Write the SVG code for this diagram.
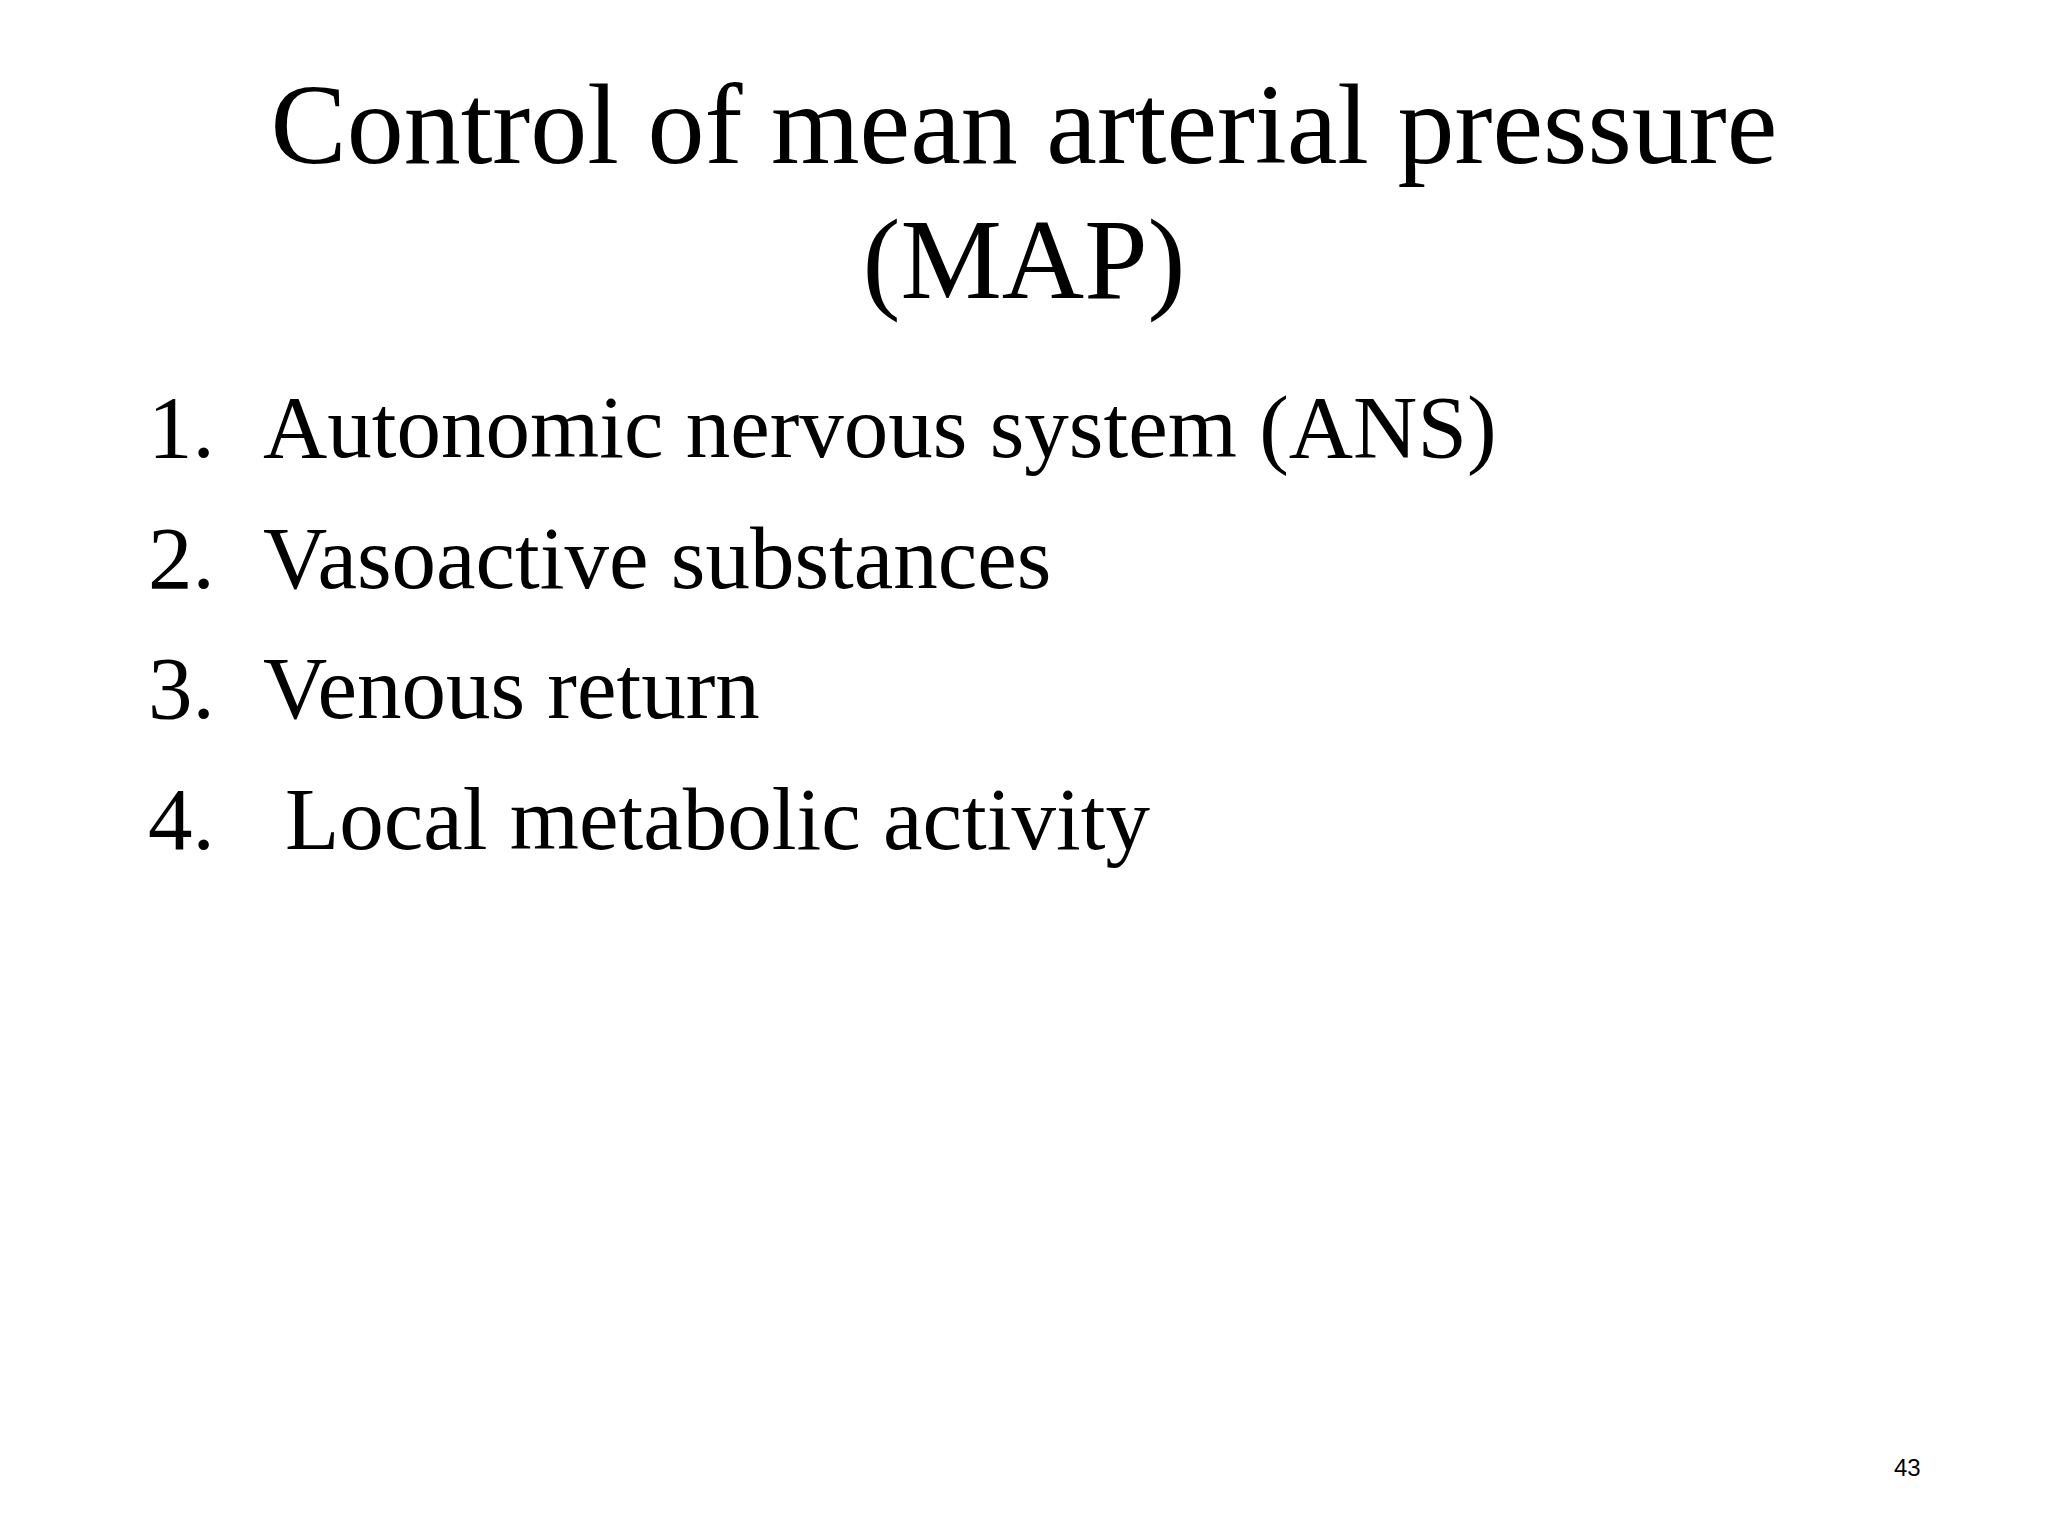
<svg xmlns="http://www.w3.org/2000/svg" width="2048" height="1536" viewBox="0 0 2048 1536">
<style>
.t{font-family:"Liberation Serif","Times New Roman",serif;fill:#000}
.h{font-size:114px}
.l{font-size:89px}
.n{font-family:"Liberation Sans",Arial,sans-serif;font-size:24px;fill:#000}
</style>
<rect width="2048" height="1536" fill="#fff"/>
<g id="title">
<text class="t h" x="1024" y="163" text-anchor="middle">Control of mean arterial pressure</text>
<text class="t h" x="1024" y="298" text-anchor="middle">(MAP)</text>
</g>
<g id="list">
<text class="t l" x="148" y="457">1.</text><text class="t l" x="263" y="457">Autonomic nervous system (ANS)</text>
<text class="t l" x="148" y="588">2.</text><text class="t l" x="263" y="588">Vasoactive substances</text>
<text class="t l" x="148" y="718">3.</text><text class="t l" x="263" y="718">Venous return</text>
<text class="t l" x="148" y="849">4.</text><text class="t l" x="285" y="849">Local metabolic activity</text>
</g>
<text class="n" x="1894" y="1476">43</text>
</svg>
